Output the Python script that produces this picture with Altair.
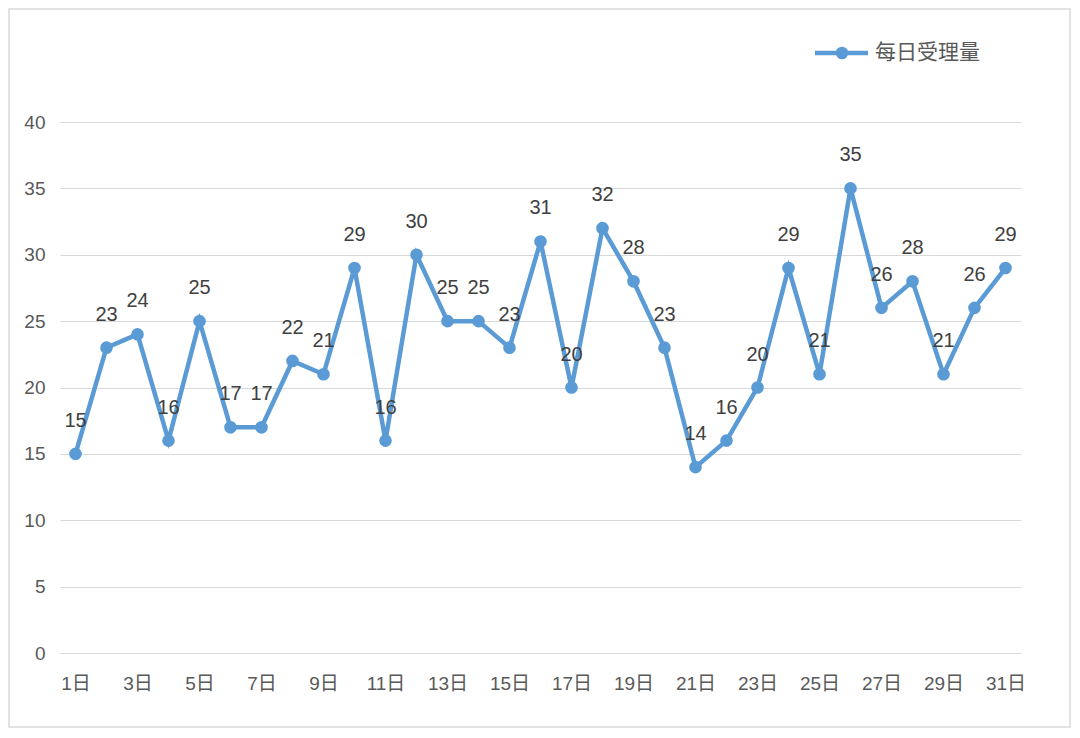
import altair as alt
import pandas as pd

days = ["1日", "2日", "3日", "4日", "5日", "6日", "7日", "8日", "9日", "10日",
        "11日", "12日", "13日", "14日", "15日", "16日", "17日", "18日", "19日", "20日",
        "21日", "22日", "23日", "24日", "25日", "26日", "27日", "28日", "29日", "30日", "31日"]
values = [15, 23, 24, 16, 25, 17, 17, 22, 21, 29,
          16, 30, 25, 25, 23, 31, 20, 32, 28, 23,
          14, 16, 20, 29, 21, 35, 26, 28, 21, 26, 29]
tick_days = ["1日", "3日", "5日", "7日", "9日", "11日", "13日", "15日", "17日", "19日",
             "21日", "23日", "25日", "27日", "29日", "31日"]
y_ticks = [0, 5, 10, 15, 20, 25, 30, 35, 40]
series_name = "每日受理量"

BLUE = "#5B9BD5"
FONT = "Liberation Sans, Noto Sans CJK SC, sans-serif"

df = pd.DataFrame({"day": days, "value": values})

base = alt.Chart(df).encode(
    x=alt.X("day:N", sort=days, title=None,
            scale=alt.Scale(type="point", padding=0.5),
            axis=alt.Axis(values=tick_days, labelAngle=0, ticks=False, domain=False,
                          grid=False, labelPadding=21, labelFontSize=19,
                          labelColor="#595959", labelFont=FONT)),
    y=alt.Y("value:Q", title=None,
            scale=alt.Scale(domain=[0, 40], nice=False, zero=True),
            axis=alt.Axis(values=y_ticks, ticks=False, domain=False, grid=True,
                          gridColor="#d9d9d9", gridWidth=1, labelPadding=15,
                          labelFontSize=19, labelColor="#595959", labelFont=FONT)),
)

line = base.mark_line(color=BLUE, strokeWidth=4.5)
pts = base.mark_point(filled=True, color=BLUE, size=160, opacity=1)
labels = base.mark_text(dy=-33, fontSize=20, color="#404040", font=FONT).encode(
    text=alt.Text("value:Q"))

leg_df = pd.DataFrame({"name": [series_name]})
leg_line = alt.Chart(leg_df).mark_rule(color=BLUE, strokeWidth=4.5).encode(
    x=alt.value(755), x2=alt.value(808), y=alt.value(-69))
leg_pt = alt.Chart(leg_df).mark_point(filled=True, color=BLUE, size=160, opacity=1).encode(
    x=alt.value(782), y=alt.value(-69))
leg_txt = alt.Chart(leg_df).mark_text(align="left", baseline="middle", fontSize=21,
                                      color="#595959", font=FONT).encode(
    x=alt.value(815), y=alt.value(-69), text="name:N")

border = alt.Chart(leg_df).mark_rect(fill=None, stroke="#d9d9d9", strokeWidth=1.5).encode(
    x=alt.value(-51), x2=alt.value(1010), y=alt.value(-113), y2=alt.value(605))

chart = alt.layer(border, line, pts, labels, leg_line, leg_pt, leg_txt).properties(
    width=961, height=531,
    background="white",
    padding={"left": 52, "top": 114, "right": 50, "bottom": 76},
    autosize=alt.AutoSizeParams(type="none"),
).configure_view(stroke=None, strokeWidth=0)

chart.save("out.html", embed_options={"renderer": "svg", "actions": False})
